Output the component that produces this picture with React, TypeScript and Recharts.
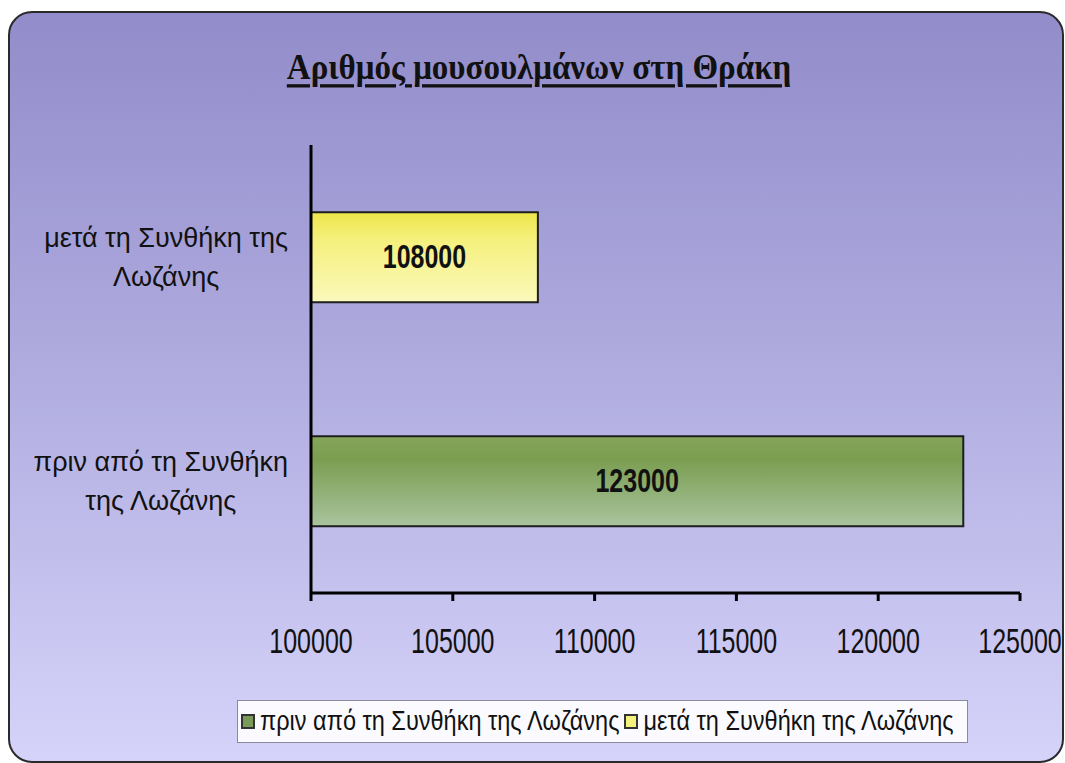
import React from 'react';
import { BarChart, Bar, XAxis, YAxis, Cell, LabelList } from 'recharts';

const chartTitle = 'Αριθμός μουσουλμάνων στη Θράκη';
const categories = ['μετά τη Συνθήκη της Λωζάνης', 'πριν από τη Συνθήκη της Λωζάνης'];
const categoryLines = [
  ['μετά τη Συνθήκη της', 'Λωζάνης'],
  ['πριν από τη Συνθήκη', 'της Λωζάνης'],
];
const values = [108000, 123000];
const seriesNames = ['πριν από τη Συνθήκη της Λωζάνης', 'μετά τη Συνθήκη της Λωζάνης'];
const xTicks = [100000, 105000, 110000, 115000, 120000, 125000];

const gradientIds = ['gradYellow', 'gradGreen'];
const legendColors = ['#7a9a5a', '#f4f27c'];

const data = categories.map((name, i) => ({ name, value: values[i] }));

const SANS = '"Liberation Sans", Arial, sans-serif';
const SERIF = '"Liberation Serif", "Times New Roman", serif';
const CAT_FONT = 27;

let measureCtx: CanvasRenderingContext2D | null = null;
const textWidth = (s: string, font: string) => {
  if (!measureCtx) {
    const c = document.createElement('canvas');
    measureCtx = c.getContext('2d');
  }
  if (!measureCtx) return s.length * 12;
  measureCtx.font = font;
  return measureCtx.measureText(s).width;
};

const XTick = (props: any) => {
  const { x, y, payload } = props;
  return (
    <g transform={`translate(${x} ${y + 50}) scale(1 1.38)`}>
      <text x={0} y={0} textAnchor="middle" fontFamily={SANS} fontSize={25} fill="#111">
        {payload.value}
      </text>
    </g>
  );
};

const YTick = (props: any) => {
  const { y, index } = props;
  const lines = categoryLines[index] || [];
  const font = `${CAT_FONT}px "Liberation Sans", Arial, sans-serif`;
  const blockW = Math.max(...lines.map((l: string) => textWidth(l, font)));
  const right = 288;
  const cx = right - blockW / 2;
  return (
    <g>
      {lines.map((ln: string, i: number) => (
        <text
          key={i}
          x={cx}
          y={y + (i === 0 ? -10 : 29)}
          textAnchor="middle"
          fontFamily={SANS}
          fontSize={CAT_FONT}
          fill="#111"
        >
          {ln}
        </text>
      ))}
    </g>
  );
};

const ValueLabel = (props: any) => {
  const { x, y, width, height, value } = props;
  const cx = x + width / 2;
  const cy = y + height / 2;
  return (
    <g transform={`translate(${cx} ${cy + 11}) scale(1 1.33)`}>
      <text x={0} y={0} textAnchor="middle" fontFamily={SANS} fontWeight="bold" fontSize={25} fill="#111">
        {value}
      </text>
    </g>
  );
};

export default function App() {
  return (
    <div style={{ position: 'absolute', left: 0, top: 0, width: 1065, height: 763, background: '#fff', overflow: 'hidden' }}>
      <div
        style={{
          position: 'absolute',
          left: 8,
          top: 11,
          width: 1052,
          height: 748,
          border: '2px solid #2a2a2a',
          borderRadius: 24,
          background: 'linear-gradient(to bottom, #928cca 0%, #aeaade 45%, #d6d3fa 100%)',
        }}
      />
      <div
        style={{
          position: 'absolute',
          left: 0,
          width: 1078,
          top: 49,
          textAlign: 'center',
        }}
      >
        <span
          style={{
            display: 'inline-block',
            fontFamily: SERIF,
            fontWeight: 'bold',
            fontSize: 33,
            lineHeight: '33px',
            color: '#111',
            textDecoration: 'underline',
            textDecorationThickness: 3,
            textUnderlineOffset: 5,
            transform: 'scaleY(1.1)',
            transformOrigin: 'center top',
          }}
        >
          {chartTitle}
        </span>
      </div>
      <div style={{ position: 'absolute', left: 0, top: 0 }}>
        <BarChart
          width={1065}
          height={763}
          data={data}
          layout="vertical"
          margin={{ top: 145, right: 45, bottom: 110, left: 0 }}
          barCategoryGap="30%"
        >
          <defs>
            <linearGradient id="gradGreen" x1="0" y1="0" x2="0" y2="1">
              <stop offset="0%" stopColor="#86a65a" />
              <stop offset="25%" stopColor="#7a9d50" />
              <stop offset="100%" stopColor="#a9c49e" />
            </linearGradient>
            <linearGradient id="gradYellow" x1="0" y1="0" x2="0" y2="1">
              <stop offset="0%" stopColor="#eee64a" />
              <stop offset="30%" stopColor="#f5f07c" />
              <stop offset="100%" stopColor="#fbf9bc" />
            </linearGradient>
          </defs>
          <XAxis
            type="number"
            domain={[100000, 125000]}
            ticks={xTicks}
            interval={0}
            axisLine={{ stroke: '#000', strokeWidth: 3 }}
            tickLine={{ stroke: '#000', strokeWidth: 3 }}
            tickSize={8}
            height={60}
            tick={<XTick />}
          />
          <YAxis
            type="category"
            dataKey="name"
            width={311}
            axisLine={{ stroke: '#000', strokeWidth: 3 }}
            tickLine={false}
            tick={<YTick />}
          />
          <Bar dataKey="value" stroke="#1e1e1e" strokeWidth={2} isAnimationActive={false}>
            {data.map((d, i) => (
              <Cell key={d.name} fill={`url(#${gradientIds[i]})`} />
            ))}
            <LabelList dataKey="value" content={<ValueLabel />} />
          </Bar>
        </BarChart>
      </div>
      <div
        style={{
          position: 'absolute',
          left: 237,
          top: 700,
          width: 731,
          height: 43,
          background: '#fbfbff',
          border: '1px solid #8a8a9a',
          display: 'flex',
          alignItems: 'center',
          paddingLeft: 3,
          boxSizing: 'border-box',
          fontFamily: SANS,
          fontSize: 23.5,
          color: '#111',
          whiteSpace: 'nowrap',
        }}
      >
        {seriesNames.map((s, i) => (
          <span key={s} style={{ display: 'inline-flex', alignItems: 'center', marginRight: 5 }}>
            <span
              style={{
                display: 'inline-block',
                width: 10,
                height: 11,
                background: legendColors[i],
                border: '2px solid #333',
                marginRight: 5,
              }}
            />
            <span style={{ display: 'inline-block', transform: 'scaleY(1.18)' }}>{s}</span>
          </span>
        ))}
      </div>
    </div>
  );
}
